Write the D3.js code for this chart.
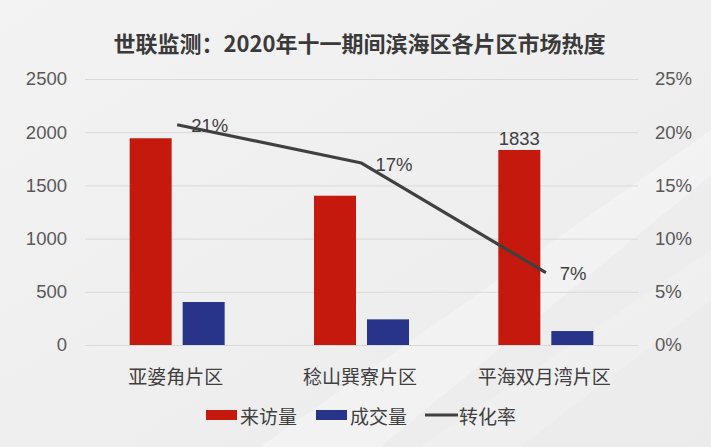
<!DOCTYPE html>
<html><head><meta charset="utf-8">
<script src="https://cdn.jsdelivr.net/npm/d3@7"></script>
<style>body{margin:0;padding:0;overflow:hidden}svg{display:block}</style>
</head><body>
<script>
const title = "世联监测：2020年十一期间滨海区各片区市场热度";
const categories = ["亚婆角片区", "稔山巽寮片区", "平海双月湾片区"];
const visits = [1943, 1403, 1833];
const deals = [404, 241, 131];
const rates = [0.207, 0.171, 0.068];
const rateLabels = ["21%", "17%", "7%"];
const visitLabelShown = [false, false, true];
const leftTicks = [0, 500, 1000, 1500, 2000, 2500];
const rightTicks = [0, 0.05, 0.10, 0.15, 0.20, 0.25];
const seriesNames = ["来访量", "成交量", "转化率"];

(function(){
const W = 711, H = 447;
const red = "#c5190e", blue = "#28338a", lineC = "#404040";
const svg = d3.select("body").append("svg").attr("width", W).attr("height", H);

// background
const defs = svg.append("defs");
const g1 = defs.append("linearGradient").attr("id","bg").attr("x1","0").attr("y1","0").attr("x2","1").attr("y2","1");
g1.append("stop").attr("offset","0").attr("stop-color","#f3f3f3");
g1.append("stop").attr("offset","1").attr("stop-color","#ebebeb");
svg.append("rect").attr("width",W).attr("height",H).attr("fill","url(#bg)");
svg.append("polygon").attr("points","260,447 711,130 711,175 380,447").attr("fill","#ffffff").attr("opacity",0.3);
svg.append("polygon").attr("points","420,447 711,250 711,300 520,447").attr("fill","#ffffff").attr("opacity",0.2);

const pL = 85, pR = 638, pT = 79, pB = 345;
const x0 = d3.scaleBand().domain(categories).range([pL, pR]).padding(0);
const y = d3.scaleLinear().domain([0, 2500]).range([pB, pT]);
const yr = d3.scaleLinear().domain([0, 0.25]).range([pB, pT]);

// gridlines
svg.append("g").selectAll("line").data(leftTicks).join("line")
  .attr("x1", pL).attr("x2", pR)
  .attr("y1", d => y(d) + 0.5).attr("y2", d => y(d) + 0.5)
  .attr("stroke", "#d9d9d9").attr("stroke-width", 1);

// left axis
const la = svg.append("g").attr("transform", `translate(${pL},0)`)
  .call(d3.axisLeft(y).tickValues(leftTicks).tickSize(0).tickPadding(18).tickFormat(d3.format("d")));
la.select(".domain").remove();
la.selectAll("text").attr("font-family","Liberation Sans, Arial, sans-serif").attr("font-size","18.5px").attr("fill","#595959");

// right axis
const ra = svg.append("g").attr("transform", `translate(${pR},0)`)
  .call(d3.axisRight(yr).tickValues(rightTicks).tickSize(0).tickPadding(17).tickFormat(d3.format(".0%")));
ra.select(".domain").remove();
ra.selectAll("text").attr("font-family","Liberation Sans, Arial, sans-serif").attr("font-size","18.5px").attr("fill","#595959");

const barW = 42, gap = 11;
const cx = c => x0(c) + x0.bandwidth() / 2;

svg.append("g").selectAll("rect").data(categories).join("rect")
  .attr("x", c => cx(c) - gap/2 - barW).attr("width", barW)
  .attr("y", (c, i) => y(visits[i])).attr("height", (c, i) => y(0) - y(visits[i]))
  .attr("fill", red);
svg.append("g").selectAll("rect").data(categories).join("rect")
  .attr("x", c => cx(c) + gap/2).attr("width", barW)
  .attr("y", (c, i) => y(deals[i])).attr("height", (c, i) => y(0) - y(deals[i]))
  .attr("fill", blue);

// visit labels
svg.append("g").selectAll("text").data(categories.filter((c,i)=>visitLabelShown[i])).join("text")
  .attr("x", c => cx(c) - gap/2 - barW/2)
  .attr("y", c => y(visits[categories.indexOf(c)]) - 11)
  .attr("text-anchor","middle").attr("dominant-baseline","central")
  .attr("font-family","Liberation Sans, Arial, sans-serif").attr("font-size","18.5px").attr("fill","#404040")
  .text(c => visits[categories.indexOf(c)]);

// line
const line = d3.line().x((d,i) => cx(categories[i])).y(d => yr(d));
svg.append("path").datum(rates).attr("d", line).attr("fill","none")
  .attr("stroke", lineC).attr("stroke-width", 3.2).attr("stroke-linejoin","round");

svg.append("g").selectAll("text").data(rates).join("text")
  .attr("x", (d,i) => cx(categories[i]) + 14)
  .attr("y", d => yr(d) + 1)
  .attr("dominant-baseline","central")
  .attr("font-family","Liberation Sans, Arial, sans-serif").attr("font-size","18.5px").attr("fill","#404040")
  .text((d,i) => rateLabels[i]);

// category labels
svg.append("g").selectAll("text").data(categories).join("text")
  .attr("x", c => cx(c) - 1.5).attr("y", 375)
  .attr("text-anchor","middle").attr("dominant-baseline","central")
  .attr("font-family","Noto Sans CJK SC, sans-serif").attr("font-size","19px").attr("fill","#404040")
  .text(c => c);

// title
svg.append("text").attr("x", 359.5).attr("y", 42).attr("text-anchor","middle").attr("dominant-baseline","central")
  .attr("font-family","Noto Sans CJK SC, sans-serif").attr("font-weight","bold").attr("font-size","22px").attr("fill","#3a3a3a")
  .text(title);

// legend
const lg = svg.append("g");
const legX = [206, 316, 425];
lg.append("rect").attr("x", legX[0]).attr("y", 410).attr("width", 31).attr("height", 10).attr("fill", red);
lg.append("rect").attr("x", legX[1]).attr("y", 410).attr("width", 31).attr("height", 10).attr("fill", blue);
lg.append("line").attr("x1", legX[2]).attr("x2", legX[2] + 33).attr("y1", 415).attr("y2", 415).attr("stroke", lineC).attr("stroke-width", 3.2);
lg.selectAll("text").data(seriesNames).join("text")
  .attr("x", (d,i) => legX[i] + 34).attr("y", 415)
  .attr("dominant-baseline","central")
  .attr("font-family","Noto Sans CJK SC, sans-serif").attr("font-size","19px").attr("fill","#404040")
  .text(d => d);
})();
</script>
</body></html>
